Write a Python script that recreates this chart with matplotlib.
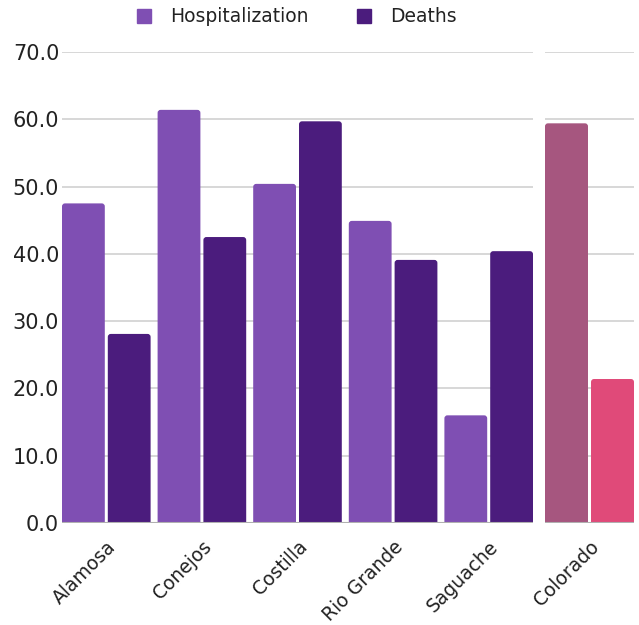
import matplotlib.pyplot as plt
from matplotlib.patches import FancyBboxPatch
from matplotlib.lines import Line2D
import numpy as np

plt.rcParams['font.family'] = ['DejaVu Sans']

counties = ["Alamosa", "Conejos", "Costilla", "Rio Grande", "Saguache"]
hosp = [47.5, 61.4, 50.4, 44.9, 16.0]
deaths = [28.1, 42.5, 59.7, 39.1, 40.4]

state = ["Colorado"]
state_hosp = [59.4]
state_deaths = [21.4]

yticks = [0, 10, 20, 30, 40, 50, 60, 70]

c_hosp = "#7f4fb3"
c_death = "#4b1c7d"
c_state_hosp = "#a6567f"
c_state_death = "#e04a79"
grid_c = "#d4d4d4"

W, H = 639, 625
fig = plt.figure(figsize=(W / 100, H / 100), dpi=100)

bw = 0.4477
gin = 0.0314
off = (bw + gin) / 2
edge = bw + gin / 2


def rounded_bars(ax, x, vals, color, px_per_x, px_per_y):
    bars = ax.bar(x, vals, width=bw, color=color, zorder=3)
    r = 3.0 / px_per_x
    aspect = px_per_x / px_per_y
    for b in bars:
        b.set_visible(False)
        x0 = b.get_x()
        h = b.get_height()
        p = FancyBboxPatch((x0, -2), b.get_width(), h + 2,
                           boxstyle=f"round,pad=0,rounding_size={r}",
                           mutation_aspect=aspect, fc=color, ec="none",
                           zorder=3, clip_on=True)
        ax.add_patch(p)
    return bars


def style(ax):
    ax.set_ylim(0, 70)
    ax.set_yticks(yticks)
    for y in yticks[1:]:
        ax.axhline(y, color=grid_c, lw=1.3, zorder=1)
    ax.axhline(0, color="#b0b0b0", lw=1.5, zorder=4)
    for s in ax.spines.values():
        s.set_visible(False)
    ax.tick_params(length=0, colors="#222222")
    ax.tick_params(axis="y", labelsize=15)
    ax.tick_params(axis="x", labelsize=13.5, pad=10)
    for lab in ax.get_xticklabels():
        lab.set_rotation(45)
        lab.set_ha("right")
        lab.set_rotation_mode("anchor")


# county panel
axL = fig.add_axes([62 / W, 1 - 523 / H, 471 / W, 471 / H])
xl = np.arange(len(counties))
pxx = 471 / (len(counties) - 1 + 2 * edge)
pxy = 471 / 70
rounded_bars(axL, xl - off, hosp, c_hosp, pxx, pxy)
rounded_bars(axL, xl + off, deaths, c_death, pxx, pxy)
axL.set_xlim(-edge, len(counties) - 1 + edge)
axL.set_xticks(xl)
axL.set_xticklabels(counties)
style(axL)
axL.set_yticklabels([f"{v:.1f}" for v in yticks])
axL.tick_params(axis="y", pad=2)

# state panel
axR = fig.add_axes([545 / W, 1 - 523 / H, 89 / W, 471 / H])
xr = np.arange(len(state))
rounded_bars(axR, xr - off, state_hosp, c_state_hosp, 89 / (2 * edge), pxy)
rounded_bars(axR, xr + off, state_deaths, c_state_death, 89 / (2 * edge), pxy)
axR.set_xlim(-edge, edge)
axR.set_xticks(xr)
axR.set_xticklabels(state)
style(axR)
axR.set_yticklabels([])

handles = [Line2D([], [], marker="s", ls="none", ms=9.5, color=c_hosp),
           Line2D([], [], marker="s", ls="none", ms=9.5, color=c_death)]
fig.legend(handles, ["Hospitalization", "Deaths"], loc="center",
           bbox_to_anchor=(291 / W, 1 - 17 / H), ncol=2, frameon=False,
           fontsize=13.5, handletextpad=0.35, columnspacing=2.0,
           labelcolor="#222222")

fig.savefig("out.png", dpi=100)
